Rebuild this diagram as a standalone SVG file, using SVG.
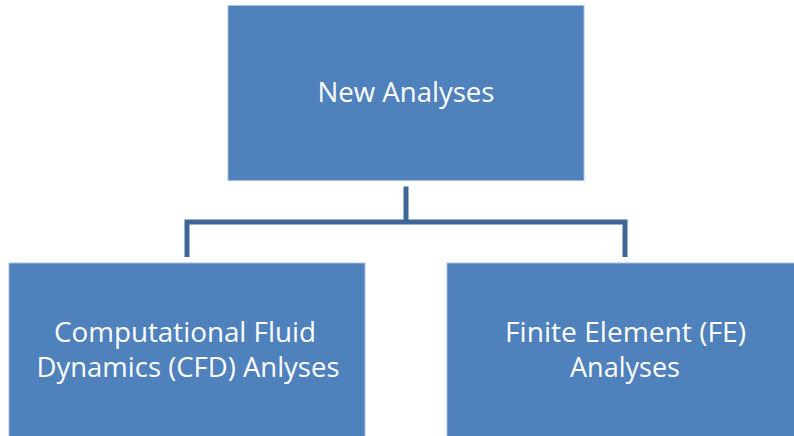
<svg xmlns="http://www.w3.org/2000/svg" width="794" height="436" viewBox="0 0 794 436">
<style>
.box{fill:#4F81BD;stroke:#A7BFDD;stroke-width:1}
.lbl{font-family:"Open Sans","Liberation Sans",sans-serif;font-size:28px;fill:#FFFFFF;text-anchor:middle}
.con{fill:none;stroke:#3E6699;stroke-width:5;stroke-linejoin:miter}
</style>
<rect x="0" y="0" width="794" height="436" fill="#FFFFFF"/>
<g id="connectors">
<path class="con" d="M406,186.5 V222"/>
<path class="con" d="M187,257 V222 H625 V257"/>
</g>
<g id="node-top">
<rect class="box" x="228" y="5.5" width="356" height="175"/>
<text class="lbl" x="406" y="102" textLength="177" lengthAdjust="spacingAndGlyphs">New Analyses</text>
</g>
<g id="node-cfd">
<rect class="box" x="9" y="263" width="356" height="180"/>
<text class="lbl" x="185" y="342" textLength="262" lengthAdjust="spacingAndGlyphs">Computational Fluid</text>
<text class="lbl" x="188" y="377" textLength="303" lengthAdjust="spacingAndGlyphs">Dynamics (CFD) Anlyses</text>
</g>
<g id="node-fe">
<rect class="box" x="447" y="263" width="356" height="180"/>
<text class="lbl" x="625.5" y="342" textLength="241" lengthAdjust="spacingAndGlyphs">Finite Element (FE)</text>
<text class="lbl" x="625" y="377" textLength="110" lengthAdjust="spacingAndGlyphs">Analyses</text>
</g>
</svg>
